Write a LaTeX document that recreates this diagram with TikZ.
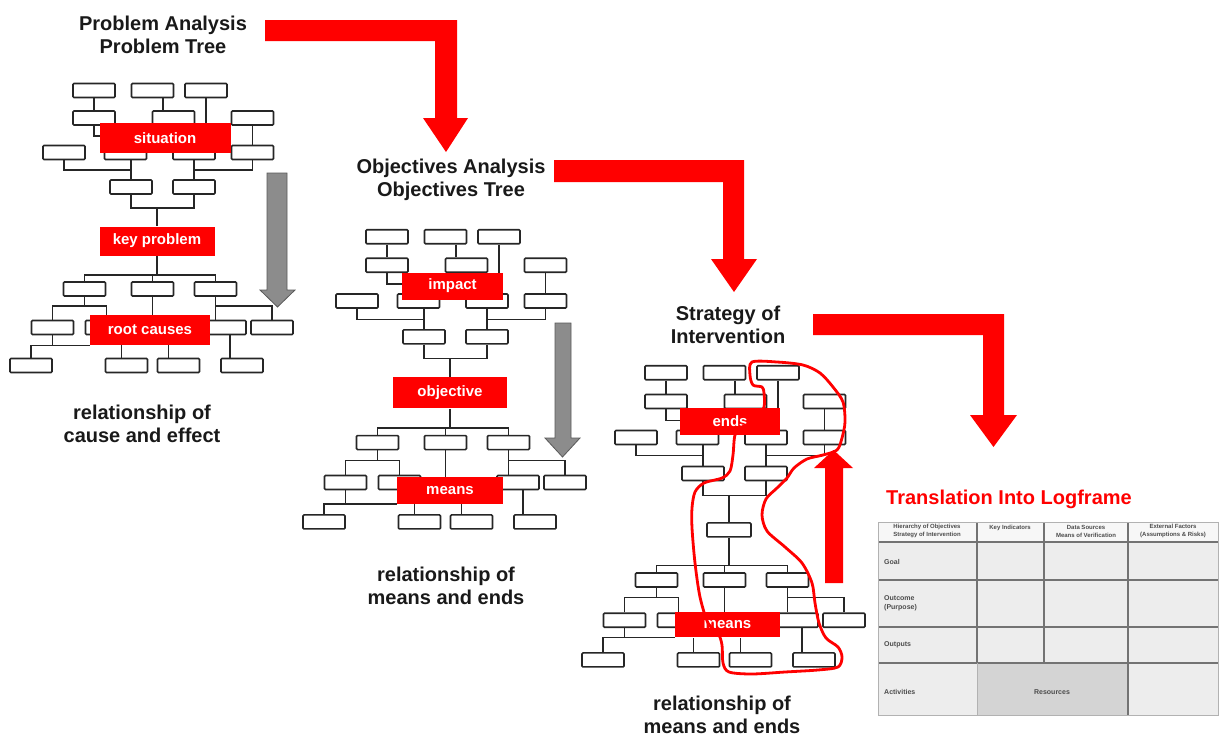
\documentclass[tikz,border=0pt]{standalone}
\usepackage{fontspec}
\setmainfont{Liberation Sans}
\pgfdeclarelayer{bg}
\pgfsetlayers{bg,main}
\tikzset{
  tbox/.style={draw=black!85, fill=white, line width=1.6pt, minimum width=42pt, minimum height=14pt, inner sep=0pt, rounded corners=1pt},
  lbl/.style={fill=red, text=white, font=\fontsize{15}{15}\selectfont\bfseries, minimum height=28pt, inner sep=0pt},
  conn/.style={line width=1.3pt, draw=black!85},
  ttl/.style={font=\fontsize{20}{23}\selectfont\bfseries, align=center, text=black!90, inner sep=0pt},
  hdr/.style={font=\fontsize{6}{8}\selectfont\bfseries, align=center, inner sep=0pt, text=black!70},
  rowl/.style={font=\fontsize{7}{9}\selectfont\bfseries, align=left, anchor=west, inner sep=0pt, text=black!70},
  redarrow/.style={fill=red},
  grayarrow/.style={fill=black!45, draw=black!65, line width=0.8pt},
  loopline/.style={draw=red, line width=2.8pt, line join=round}
}
\newcommand\drawtree[3]{%
\begin{scope}[shift={#2},yscale=#3]
  \foreach \n/\x/\y in {a1/94/90.5, a2/152.5/90.5, a3/206/90.5,
      b1/94/118, b2/173.5/118, b3/252.5/118,
      c1/64/152.5, c2/125.5/152.5, c3/194/152.5, c4/252.5/152.5,
      d1/131/187, d2/194/187,
      e1/84.5/289, e2/152.5/289, e3/215.5/289,
      f1/52.5/327.5, f2/106.5/327.5, f4/225/327.5, f5/272/327.5,
      g1/31/365.5, g2/126.5/365.5, g3/178.5/365.5, g4/242/365.5}
    \node[tbox] (#1-\n) at (\x,\y) {};
  \node[tTop] (#1-s) at (\topx,\topy) {\toptext};
  \node[tMid] (#1-k) at (157,241) {\midtext};
  \node[tBot] (#1-r) at (\botx,\boty) {\bottext};
  \coordinate (#1-h) at (115,136);
  \coordinate (#1-j1) at (131,170);
  \coordinate (#1-j2) at (194,170);
  \coordinate (#1-j3) at (157,208);
  \coordinate (#1-j4) at (157,275);
  \coordinate (#1-j5) at (84.5,306);
  \coordinate (#1-j6) at (215.5,306);
  \begin{pgfonlayer}{bg}
    \draw[conn] (#1-a1) -- (#1-b1);
    \draw[conn] ([xshift=10.5pt]#1-a2.south) -- ([xshift=-10.5pt]#1-b2.north);
    \draw[conn] (#1-a3.south) -- (#1-a3.south |- #1-c3.north);
    \draw[conn] (#1-b1.south) |- (#1-h);
    \draw[conn] (#1-b3) -- (#1-c4);
    \draw[conn] (#1-c1.south) |- (#1-j1);
    \draw[conn] (#1-c2.south -| #1-d1.north) -- (#1-d1.north);
    \draw[conn] (#1-c3) -- (#1-d2);
    \draw[conn] (#1-c4.south) |- (#1-j2);
    \draw[conn] (#1-d1.south) |- (#1-j3) -| (#1-d2.south);
    \draw[conn] (#1-j3) -- (#1-k.north);
    \draw[conn] (#1-k.south) -- (#1-j4);
    \draw[conn] (#1-e1.north) |- (#1-j4) -| (#1-e3.north);
    \draw[conn] (#1-e2.north) -- (#1-e2.north |- #1-j4);
    \draw[conn] (#1-e1.south) -- (#1-j5);
    \draw[conn] (#1-f1.north) |- (#1-j5) -| (#1-f2.north);
    \draw[conn] (#1-e2.south) -- (#1-e2.south |- #1-r.north);
    \draw[conn] (#1-e3.south) -- (#1-e3.south |- #1-f4.north);
    \draw[conn] (#1-j6) -| (#1-f5.north);
    \draw[conn] (#1-f1.south) -- (#1-f1.south |- #1-r.south west);
    \draw[conn] (#1-g1.north) |- (#1-r.south west);
    \draw[conn] ([xshift=-5pt]#1-g2.north) -- ([xshift=-5pt]#1-g2.north |- #1-r.south);
    \draw[conn] ([xshift=-10pt]#1-g3.north) -- ([xshift=-10pt]#1-g3.north |- #1-r.south);
    \draw[conn] ([xshift=5pt]#1-f4.south) -- ([xshift=-12pt]#1-g4.north);
  \end{pgfonlayer}
\end{scope}}
\begin{document}
\begin{tikzpicture}[x=1pt,y=-1pt]
\useasboundingbox (0,0) rectangle (1219,739);
% ---------- tree 1: problem tree
\def\toptext{situation}\def\topx{165}\def\topy{138}
\def\midtext{key problem}
\def\bottext{root causes}\def\botx{150}\def\boty{330}
\tikzset{tTop/.style={lbl, minimum width=131pt, minimum height=30pt},
         tMid/.style={lbl, minimum width=115pt, minimum height=29pt},
         tBot/.style={lbl, minimum width=120pt, minimum height=30pt}}
\drawtree{p}{(0,0)}{1}
% ---------- tree 2: objectives tree
\def\toptext{impact}\def\topx{159.5}\def\topy{138}
\def\midtext{objective}
\def\bottext{means}\def\botx{157}\def\boty{335}
\tikzset{tTop/.style={lbl, minimum width=101pt, minimum height=27pt},
         tMid/.style={lbl, minimum width=114pt, minimum height=31pt},
         tBot/.style={lbl, minimum width=106pt, minimum height=27pt}}
\drawtree{o}{(293,142.9)}{1.037}
% ---------- tree 3: strategy
\def\toptext{ends}\def\topx{158}\def\topy{137}
\def\midtext{}
\def\bottext{means}\def\botx{155.5}\def\boty{332}
\tikzset{tTop/.style={lbl, minimum width=100pt, minimum height=27pt},
         tMid/.style={tbox, minimum width=44pt},
         tBot/.style={lbl, minimum width=105pt, minimum height=25pt}}
\drawtree{s}{(572,278.3)}{1.044}
% ---------- titles and captions
\node[ttl] (t1) at (163,34.5) {Problem Analysis\\Problem Tree};
\node[ttl] (t2) at (451,180) {Objectives Analysis\\Objectives Tree};
\node[ttl] (t3) at (728,325) {Strategy of\\Intervention};
\node[ttl] (c1) at (142,424) {relationship of\\cause and effect};
\node[ttl] (c2) at (446,586) {relationship of\\means and ends};
\node[ttl] (c3) at (722,715) {relationship of\\means and ends};
% ---------- big red bent arrows
\fill[redarrow] (265,20) -- (457,20) -- (457,118) -- (468,118) -- (446,152) -- (423,118) -- (435,118) -- (435,41) -- (265,41) -- cycle;
\fill[redarrow] (554,160) -- (744,160) -- (744,259) -- (757,259) -- (734,292) -- (711,259) -- (723,259) -- (723,182) -- (554,182) -- cycle;
\fill[redarrow] (813,314) -- (1004,314) -- (1004,415) -- (1017,415) -- (993.5,447) -- (970,415) -- (983,415) -- (983,335) -- (813,335) -- cycle;
% ---------- gray arrows
\filldraw[grayarrow] (267,173) -- (287,173) -- (287,290) -- (295,290) -- (277.5,307) -- (260,290) -- (267,290) -- cycle;
\filldraw[grayarrow] (555,323) -- (571,323) -- (571,438) -- (580,438) -- (562.5,457) -- (545,438) -- (555,438) -- cycle;
% ---------- freehand red loop
\draw[loopline] plot[smooth cycle, tension=0.5] coordinates {
 (735,435) (733,455) (730,471) (722,478) (704,483) (695,492) (692,508) (692,528)
 (695,563) (700,597) (708,623) (718,633) (722,645) (723,663) (729,672) (752,674)
 (785,672) (818,670) (838,667) (842,657) (838,647) (826,638) (819,623) (815,603)
 (812,583) (802,563) (785,547) (767,531) (762,515) (766,499) (777,488) (787,478)
 (794,468) (807,459) (823,455) (837,450) (842,438) (845,422) (843,402) (833,387)
 (820,373) (803,365) (777,362) (752,362) (750,375) (753,385) (762,387) (764,393)
 (764,407) (756,420) (742,427)};
% ---------- red up arrow
\fill[redarrow] (825,583) -- (825,468) -- (814,468) -- (833.5,450) -- (853,468) -- (843,468) -- (843,583) -- cycle;
% ---------- logframe
\node[font=\fontsize{20}{23}\selectfont\bfseries, text=red, inner sep=0pt] (lf) at (1009,499) {Translation Into Logframe};
\fill[black!3] (878,522) rectangle (1218,542);
\fill[black!7] (878,542) rectangle (1218,715);
\fill[black!17] (977,663) rectangle (1128,715);
\draw[black!55, line width=1.4pt] (878,542) -- (1218,542) (878,580) -- (1218,580)
   (878,627) -- (1218,627) (878,663) -- (1218,663);
\draw[black!55, line width=1.4pt] (977,522) -- (977,663) (1044,522) -- (1044,663) (1128,522) -- (1128,715);
\draw[black!30, line width=0.8pt] (878,522) rectangle (1218,715);
\draw[black!30, line width=0.8pt] (977,663) -- (977,715);
\node[hdr] (h1) at (927,531) {Hierarchy of Objectives\\Strategy of Intervention};
\node[hdr, anchor=north] (h2) at (1010,524.5) {Key Indicators};
\node[hdr] (h3) at (1086,531) {Data Sources\\Means of Verification};
\node[hdr] (h4) at (1173,531) {External Factors\\(Assumptions \& Risks)};
\node[rowl] (r1) at (884,562) {Goal};
\node[rowl] (r2) at (884,603) {Outcome\\(Purpose)};
\node[rowl] (r3) at (884,645) {Outputs};
\node[rowl] (r4) at (884,692) {Activities};
\node[rowl, anchor=center] (r5) at (1052,692) {Resources};
\end{tikzpicture}
\end{document}
